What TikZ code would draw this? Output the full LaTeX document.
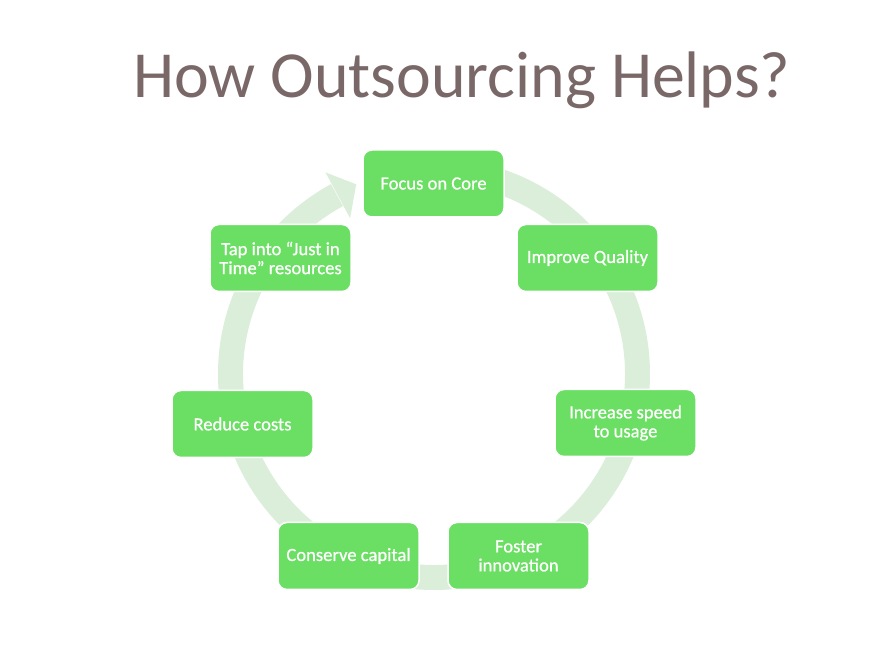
\documentclass[tikz,border=0pt]{standalone}
\usepackage{fontspec}
\setmainfont{Carlito}
\newfontfamily\boxfont{Carlito}[FakeBold=0.7]
\usetikzlibrary{calc}
\definecolor{boxgreen}{RGB}{107,222,100}
\definecolor{ringgreen}{RGB}{218,238,218}
\definecolor{titlec}{RGB}{122,104,104}
\tikzset{
  cyclebox/.style={rectangle, rounded corners=9pt, fill=boxgreen, draw=white, line width=1.5pt,
    minimum width=141pt, minimum height=67pt, text=white, align=center,
    font=\boxfont\fontsize{18.6}{19}\selectfont, inner sep=2pt},
  ringfill/.style={fill=ringgreen}
}
\begin{document}
\begin{tikzpicture}[x=1pt,y=1pt]
\useasboundingbox (0,0) rectangle (876,656);
\fill[white] (0,0) rectangle (876,656);
\node[anchor=base, text=titlec, font=\fontsize{65.8}{70}\selectfont] (title) at (462,558) {How Outsourcing Helps?};
\coordinate (C) at (434,282);
% ring
\fill[ringfill] ([shift={(C)}]90:216) arc[start angle=90, end angle=-241.5, radius=216]
  -- ([shift={(C)}]118.5:191) arc[start angle=118.5, end angle=450, radius=191] -- cycle;
\fill[ringfill] ([shift={(C)}]118.3:229) -- ([shift={(C)}]112.3:205) -- ([shift={(C)}]118.3:177) -- cycle;
% boxes
\node[cyclebox] (focus) at (433.5,472.5) {Focus on Core};
\node[cyclebox] (quality) at (587.5,398) {Improve Quality};
\node[cyclebox] (speed) at (625.5,233) {Increase speed\\to usage};
\node[cyclebox] (foster) at (518.5,100) {Foster\\innovation};
\node[cyclebox] (conserve) at (348.5,100) {Conserve capital};
\node[cyclebox] (reduce) at (242.5,232) {Reduce costs};
\node[cyclebox] (tap) at (280.5,398) {Tap into “Just in\\Time” resources};
\end{tikzpicture}
\end{document}
